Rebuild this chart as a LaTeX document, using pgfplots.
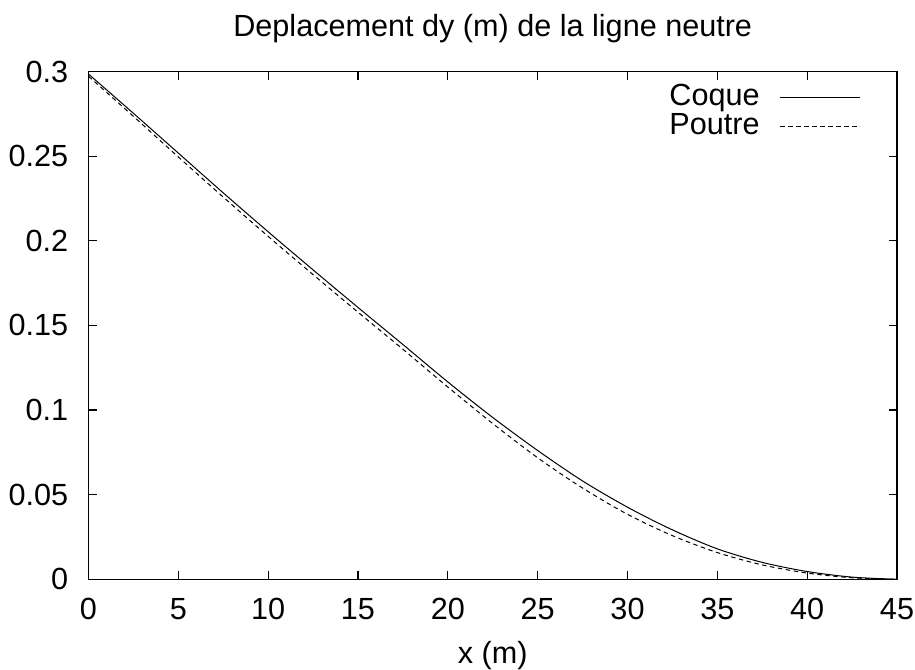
\documentclass[border=0pt]{standalone}
\usepackage{fontspec}
\setmainfont{Liberation Sans}
\usepackage{pgfplots}
\pgfplotsset{compat=1.18}

\pgfplotstableread{
x     dy
0     0.2985
2.5   0.2753
5     0.2518
7.5   0.2283
10    0.2053
12.5  0.1828
15    0.1606
17.5  0.1387
20    0.1166
22.5  0.0956
25    0.0761
27.5  0.0581
30    0.0426
32.5  0.0292
35    0.0180
37.5  0.0100
40    0.0046
42.5  0.0013
45    0.0000
}\coque

\pgfplotstableread{
x     dy
0     0.2972
2.5   0.2735
5     0.2495
7.5   0.2258
10    0.2026
12.5  0.1800
15    0.1578
17.5  0.1359
20    0.1136
22.5  0.0920
25    0.0718
27.5  0.0539
30    0.0384
32.5  0.0258
35    0.0158
37.5  0.0085
40    0.0037
42.5  0.0009
45    0.0000
}\poutre

\begin{document}
\begin{tikzpicture}
\begin{axis}[
  name=ax,
  scale only axis,
  width=404.25pt, height=253.9pt,
  xmin=0, xmax=45, ymin=0, ymax=0.3,
  xtick={0,5,...,45},
  ytick={0,0.05,0.1,0.15,0.2,0.25,0.3},
  tick align=inside,
  major tick length=4pt,
  axis line style={line width=0.6pt},
  every tick/.style={line width=0.6pt, black},
  font=\fontsize{15.3}{18}\selectfont,
  /pgf/number format/assume math mode=true,
  /pgf/number format/fixed,
  /pgf/number format/precision=2,
  xticklabel style={anchor=base, yshift=-20pt, inner sep=0pt},
  yticklabel style={anchor=east, xshift=-10pt, inner sep=0pt},
  every axis title shift=0pt,
  title={Deplacement dy (m) de la ligne neutre},
  title style={at={(0.5,1)}, anchor=base, yshift=17.5pt, inner sep=0pt},
  xlabel={x (m)},
  xlabel style={at={(axis description cs:0.5,0)}, anchor=base, yshift=-42pt, inner sep=0pt},
  legend plot pos=right,
  legend cell align=right,
  legend image code/.code={\draw[#1] (0pt,0pt) -- (40pt,0pt);},
  legend style={at={(rel axis cs:1,1)}, anchor=north east, xshift=-18pt, yshift=-6pt,
    draw=none, fill=none, inner sep=0pt, column sep=10pt, row sep=0.5pt,
    nodes={inner sep=0pt, text height=11pt, text depth=3pt}},
]
\addplot[black, line width=0.5pt, smooth] table[x=x, y=dy] {\coque};
\addlegendentry{Coque}
\addplot[black, line width=0.5pt, smooth, dash pattern=on 2.2pt off 1.8pt] table[x=x, y=dy] {\poutre};
\addlegendentry{Poutre}
\end{axis}
\path ([xshift=-44.25pt, yshift=-44.85pt]ax.south west) rectangle ([xshift=9pt, yshift=35.75pt]ax.north east);
\end{tikzpicture}
\end{document}
